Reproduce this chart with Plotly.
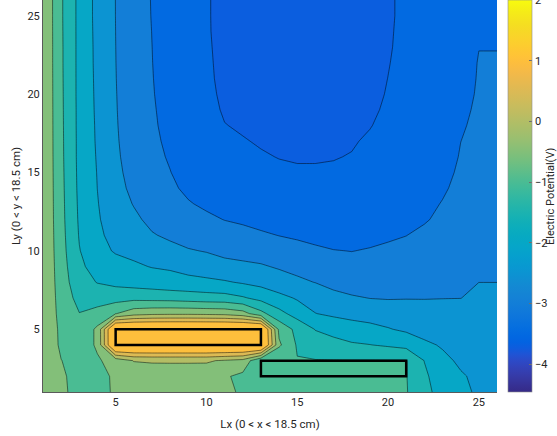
import plotly.graph_objects as go

# Grid coordinates (cm) of the potential samples
x_cm = list(range(1, 27))
y_cm = list(range(1, 27))

# Electric potential (V), one row per y from y=1 (bottom) to y=26 (top)
potential = [
    [-0.01, -0.43, -0.62, -0.62, -0.45, -0.30, -0.27, -0.25, -0.25, -0.26, -0.42, -0.55, -0.80, -0.85, -0.88, -0.90, -0.91, -0.92, -0.93, -0.94, -0.97, -1.35, -1.70, -1.92, -2.05, -2.05],
    [-0.01, -0.44, -0.64, -0.62, -0.44, -0.30, -0.27, -0.25, -0.25, -0.27, -0.44, -0.62, -0.98, -0.98, -0.98, -0.98, -0.98, -0.98, -0.98, -0.98, -0.98, -1.42, -1.75, -1.95, -2.10, -2.10],
    [-0.01, -0.49, -0.70, -0.56, -0.30, 0.02, 0.05, 0.05, 0.05, 0.05, -0.05, -0.15, -0.98, -0.98, -0.98, -0.98, -0.98, -0.98, -0.98, -0.98, -0.98, -1.51, -1.88, -2.08, -2.20, -2.20],
    [-0.01, -0.60, -0.82, -0.42, 2.00, 2.00, 2.00, 2.00, 2.00, 2.00, 2.00, 2.00, 2.00, -0.42, -1.05, -1.25, -1.38, -1.45, -1.49, -1.56, -1.65, -1.90, -2.05, -2.20, -2.28, -2.28],
    [-0.01, -0.62, -0.90, -0.40, 2.00, 2.00, 2.00, 2.00, 2.00, 2.00, 2.00, 2.00, 2.00, -0.62, -1.15, -1.52, -1.62, -1.75, -1.85, -1.97, -2.08, -2.20, -2.28, -2.32, -2.33, -2.33],
    [-0.01, -0.68, -0.99, -0.85, -0.52, -0.20, -0.12, -0.10, -0.10, -0.12, -0.15, -0.30, -0.85, -1.35, -1.70, -1.99, -2.10, -2.18, -2.22, -2.24, -2.27, -2.30, -2.32, -2.34, -2.35, -2.35],
    [-0.01, -0.72, -1.15, -1.20, -1.20, -1.15, -1.18, -1.20, -1.25, -1.30, -1.32, -1.45, -1.65, -1.85, -2.05, -2.22, -2.35, -2.45, -2.51, -2.53, -2.52, -2.52, -2.51, -2.505, -2.42, -2.42],
    [-0.01, -0.76, -1.30, -1.52, -1.62, -1.70, -1.75, -1.82, -1.85, -1.88, -1.95, -2.05, -2.15, -2.32, -2.42, -2.51, -2.65, -2.72, -2.72, -2.70, -2.67, -2.64, -2.60, -2.57, -2.501, -2.501],
    [-0.01, -0.79, -1.40, -1.70, -1.80, -1.93, -2.02, -2.06, -2.18, -2.30, -2.38, -2.42, -2.46, -2.54, -2.62, -2.72, -2.86, -2.90, -2.87, -2.84, -2.80, -2.75, -2.70, -2.64, -2.58, -2.58],
    [-0.01, -0.82, -1.48, -1.83, -2.05, -2.12, -2.25, -2.38, -2.47, -2.52, -2.60, -2.64, -2.68, -2.78, -2.86, -2.94, -2.99, -3.005, -2.98, -2.95, -2.91, -2.85, -2.79, -2.71, -2.65, -2.65],
    [-0.01, -0.84, -1.53, -1.90, -2.17, -2.28, -2.47, -2.57, -2.66, -2.72, -2.82, -2.88, -2.94, -3.01, -3.06, -3.10, -3.12, -3.10, -3.08, -3.04, -3.005, -2.93, -2.86, -2.77, -2.71, -2.71],
    [-0.01, -0.86, -1.56, -1.95, -2.25, -2.42, -2.60, -2.72, -2.84, -2.92, -3.01, -3.06, -3.14, -3.20, -3.23, -3.25, -3.25, -3.20, -3.17, -3.12, -3.08, -3.03, -2.93, -2.83, -2.76, -2.76],
    [-0.01, -0.87, -1.58, -1.98, -2.31, -2.52, -2.70, -2.84, -2.97, -3.07, -3.16, -3.20, -3.28, -3.33, -3.35, -3.36, -3.35, -3.29, -3.25, -3.20, -3.15, -3.08, -2.985, -2.88, -2.80, -2.80],
    [-0.01, -0.88, -1.60, -2.005, -2.36, -2.60, -2.78, -2.93, -3.08, -3.20, -3.28, -3.32, -3.38, -3.42, -3.43, -3.44, -3.42, -3.36, -3.32, -3.27, -3.21, -3.16, -3.04, -2.92, -2.84, -2.84],
    [-0.01, -0.89, -1.61, -2.02, -2.40, -2.65, -2.84, -2.99, -3.16, -3.29, -3.37, -3.40, -3.45, -3.47, -3.48, -3.48, -3.47, -3.435, -3.38, -3.32, -3.26, -3.21, -3.09, -2.95, -2.87, -2.87],
    [-0.01, -0.90, -1.62, -2.04, -2.43, -2.69, -2.89, -3.04, -3.22, -3.35, -3.43, -3.46, -3.485, -3.505, -3.515, -3.515, -3.51, -3.49, -3.43, -3.37, -3.30, -3.25, -3.13, -2.98, -2.90, -2.90],
    [-0.01, -0.905, -1.62, -2.06, -2.45, -2.72, -2.92, -3.08, -3.26, -3.39, -3.47, -3.49, -3.515, -3.54, -3.55, -3.55, -3.54, -3.52, -3.47, -3.41, -3.33, -3.28, -3.17, -3.002, -2.92, -2.92],
    [-0.01, -0.91, -1.625, -2.07, -2.465, -2.735, -2.945, -3.11, -3.29, -3.42, -3.495, -3.52, -3.55, -3.58, -3.59, -3.59, -3.575, -3.55, -3.51, -3.44, -3.36, -3.31, -3.20, -3.03, -2.94, -2.94],
    [-0.01, -0.915, -1.625, -2.085, -2.475, -2.75, -2.96, -3.13, -3.31, -3.44, -3.52, -3.55, -3.58, -3.61, -3.62, -3.62, -3.60, -3.575, -3.54, -3.465, -3.38, -3.33, -3.23, -3.06, -2.955, -2.955],
    [-0.01, -0.92, -1.63, -2.095, -2.483, -2.755, -2.975, -3.15, -3.325, -3.455, -3.535, -3.57, -3.60, -3.635, -3.645, -3.645, -3.625, -3.60, -3.56, -3.485, -3.40, -3.35, -3.25, -3.09, -2.97, -2.97],
    [-0.01, -0.925, -1.63, -2.105, -2.49, -2.76, -2.985, -3.165, -3.335, -3.465, -3.545, -3.585, -3.62, -3.655, -3.665, -3.665, -3.645, -3.615, -3.575, -3.498, -3.415, -3.36, -3.27, -3.12, -2.978, -2.978],
    [-0.01, -0.93, -1.63, -2.115, -2.495, -2.765, -2.993, -3.175, -3.34, -3.47, -3.55, -3.60, -3.635, -3.67, -3.68, -3.68, -3.66, -3.63, -3.585, -3.51, -3.43, -3.37, -3.285, -3.14, -2.985, -2.985],
    [-0.01, -0.93, -1.63, -2.12, -2.498, -2.77, -2.998, -3.185, -3.345, -3.475, -3.555, -3.61, -3.65, -3.685, -3.695, -3.695, -3.67, -3.64, -3.59, -3.52, -3.44, -3.375, -3.30, -3.18, -3.005, -3.005],
    [-0.01, -0.935, -1.63, -2.13, -2.501, -2.775, -3.005, -3.19, -3.35, -3.48, -3.56, -3.62, -3.66, -3.695, -3.705, -3.705, -3.68, -3.645, -3.595, -3.525, -3.445, -3.38, -3.31, -3.22, -3.10, -3.10],
    [-0.01, -0.94, -1.63, -2.14, -2.504, -2.78, -3.015, -3.20, -3.35, -3.48, -3.565, -3.63, -3.67, -3.70, -3.71, -3.71, -3.69, -3.65, -3.60, -3.53, -3.45, -3.38, -3.32, -3.26, -3.18, -3.18],
    [-0.01, -0.94, -1.63, -2.14, -2.505, -2.78, -3.02, -3.20, -3.35, -3.48, -3.565, -3.63, -3.67, -3.70, -3.71, -3.71, -3.69, -3.65, -3.60, -3.53, -3.45, -3.38, -3.32, -3.27, -3.23, -3.23],
]

# Contour levels and colour limits (V)
level_start = -3.5
level_end = 1.0
level_step = 0.5
cbar_min = -4.46
cbar_max = 2.0
cbar_ticks = [-4, -3, -2, -1, 0, 1, 2]

# Electrode outlines (cm)
electrode_x0 = [5, 13]
electrode_x1 = [13, 21]
electrode_y0 = [4, 2]
electrode_y1 = [5, 3]

x_ticks = [5, 10, 15, 20, 25]
y_ticks = [5, 10, 15, 20, 25]

# Parula colormap (64 entries)
PARULA = [
    [0.2081, 0.1663, 0.5292], [0.2116, 0.1898, 0.5777], [0.2123, 0.2138, 0.6270], [0.2081, 0.2386, 0.6771],
    [0.1959, 0.2645, 0.7279], [0.1707, 0.2919, 0.7792], [0.1253, 0.3242, 0.8303], [0.0591, 0.3598, 0.8683],
    [0.0117, 0.3875, 0.8820], [0.0060, 0.4086, 0.8828], [0.0165, 0.4266, 0.8786], [0.0329, 0.4430, 0.8720],
    [0.0498, 0.4586, 0.8641], [0.0629, 0.4737, 0.8554], [0.0723, 0.4887, 0.8467], [0.0779, 0.5040, 0.8384],
    [0.0793, 0.5200, 0.8312], [0.0749, 0.5375, 0.8263], [0.0641, 0.5570, 0.8240], [0.0488, 0.5772, 0.8228],
    [0.0343, 0.5966, 0.8199], [0.0265, 0.6137, 0.8135], [0.0239, 0.6287, 0.8038], [0.0231, 0.6418, 0.7913],
    [0.0228, 0.6535, 0.7768], [0.0267, 0.6642, 0.7607], [0.0384, 0.6743, 0.7436], [0.0590, 0.6838, 0.7254],
    [0.0843, 0.6928, 0.7062], [0.1133, 0.7015, 0.6859], [0.1453, 0.7098, 0.6646], [0.1801, 0.7177, 0.6424],
    [0.2178, 0.7250, 0.6193], [0.2586, 0.7317, 0.5954], [0.3022, 0.7376, 0.5712], [0.3482, 0.7424, 0.5473],
    [0.3953, 0.7459, 0.5244], [0.4420, 0.7481, 0.5033], [0.4871, 0.7491, 0.4840], [0.5300, 0.7491, 0.4661],
    [0.5709, 0.7485, 0.4494], [0.6099, 0.7473, 0.4337], [0.6473, 0.7456, 0.4188], [0.6834, 0.7435, 0.4044],
    [0.7184, 0.7411, 0.3905], [0.7525, 0.7384, 0.3768], [0.7858, 0.7356, 0.3633], [0.8185, 0.7327, 0.3498],
    [0.8507, 0.7299, 0.3360], [0.8824, 0.7274, 0.3217], [0.9139, 0.7258, 0.3063], [0.9450, 0.7261, 0.2886],
    [0.9739, 0.7314, 0.2666], [0.9938, 0.7455, 0.2403], [0.9990, 0.7653, 0.2164], [0.9955, 0.7861, 0.1967],
    [0.9880, 0.8066, 0.1794], [0.9789, 0.8271, 0.1633], [0.9697, 0.8481, 0.1475], [0.9626, 0.8705, 0.1309],
    [0.9589, 0.8949, 0.1132], [0.9598, 0.9218, 0.0948], [0.9661, 0.9514, 0.0755], [0.9763, 0.9831, 0.0538],
]


def parula_at(p):
    p = min(max(p, 0.0), 1.0)
    f = p * (len(PARULA) - 1)
    i = int(f)
    j = min(i + 1, len(PARULA) - 1)
    t = f - i
    c = [PARULA[i][k] + (PARULA[j][k] - PARULA[i][k]) * t for k in range(3)]
    return "rgb(%d,%d,%d)" % tuple(round(v * 255) for v in c)


parula_scale = [[i / (len(PARULA) - 1), parula_at(i / (len(PARULA) - 1))] for i in range(len(PARULA))]

# Each filled band takes the colour of its lower bound within the colour limits
z_min = min(min(r) for r in potential)
n_levels = int(round((level_end - level_start) / level_step)) + 1
band_lows = [z_min] + [level_start + k * level_step for k in range(n_levels)]
band_scale = [
    [k / (len(band_lows) - 1), parula_at((lo - cbar_min) / (cbar_max - cbar_min))]
    for k, lo in enumerate(band_lows)
]

TEXT = "#262626"
FONT = "Roboto"

fig = go.Figure()

fig.add_trace(go.Contour(
    x=x_cm, y=y_cm, z=potential,
    contours=dict(start=level_start, end=level_end, size=level_step,
                  coloring="fill", showlines=True),
    line=dict(color="rgba(0,0,0,0.8)", width=0.6, smoothing=0),
    colorscale=band_scale,
    showscale=False,
    hoverinfo="skip",
))

# Continuous colour bar for the potential scale
fig.add_trace(go.Scatter(
    x=[x_cm[0]], y=[y_cm[0]], mode="markers",
    marker=dict(size=1, opacity=0, color=[cbar_min], colorscale=parula_scale,
                cmin=cbar_min, cmax=cbar_max, showscale=True,
                colorbar=dict(
                    x=1.0242, xanchor="left", xref="paper", xpad=0, ypad=0,
                    y=0.5, yanchor="middle", len=1.0, lenmode="fraction",
                    thickness=24, thicknessmode="pixels",
                    outlinewidth=0.6, outlinecolor="#8c8c8c",
                    tickvals=cbar_ticks, ticks="inside", ticklen=3,
                    tickcolor="#6e6e6e", tickwidth=1,
                    ticklabeloverflow="allow",
                    tickfont=dict(family=FONT, size=11, color=TEXT),
                )),
    hoverinfo="skip", showlegend=False,
))

for x0, x1, y0, y1 in zip(electrode_x0, electrode_x1, electrode_y0, electrode_y1):
    fig.add_shape(type="rect", xref="x", yref="y", x0=x0, x1=x1, y0=y0, y1=y1,
                  line=dict(color="black", width=2.5), fillcolor="rgba(0,0,0,0)",
                  layer="above")

fig.add_annotation(
    text="Electric Potential(V)", xref="paper", yref="paper",
    x=1.1167, y=0.5, xanchor="center", yanchor="middle",
    textangle=-90, showarrow=False,
    font=dict(family=FONT, size=11, color=TEXT),
)

fig.update_layout(
    width=557, height=436, autosize=False,
    margin=dict(l=43, r=60, t=0, b=44, pad=0, autoexpand=False),
    paper_bgcolor="white", plot_bgcolor="white",
    font=dict(family=FONT, size=11, color=TEXT),
    showlegend=False,
    xaxis=dict(
        range=[x_cm[0], x_cm[-1]], tickvals=x_ticks, showgrid=False, zeroline=False,
        showline=True, linecolor="#5a5a5a", linewidth=1, ticks="",
        tickfont=dict(family=FONT, size=11, color=TEXT),
        title=dict(text="Lx (0 < x < 18.5 cm)", font=dict(family=FONT, size=11.5, color=TEXT),
                   standoff=11),
    ),
    yaxis=dict(
        range=[y_cm[0], y_cm[-1]], tickvals=y_ticks, showgrid=False, zeroline=False,
        showline=True, linecolor="#5a5a5a", linewidth=1, ticks="",
        tickfont=dict(family=FONT, size=11, color=TEXT),
        title=dict(text="Ly (0 < y < 18.5 cm)", font=dict(family=FONT, size=11.5, color=TEXT),
                   standoff=4),
    ),
)

fig.write_html("out.html")
